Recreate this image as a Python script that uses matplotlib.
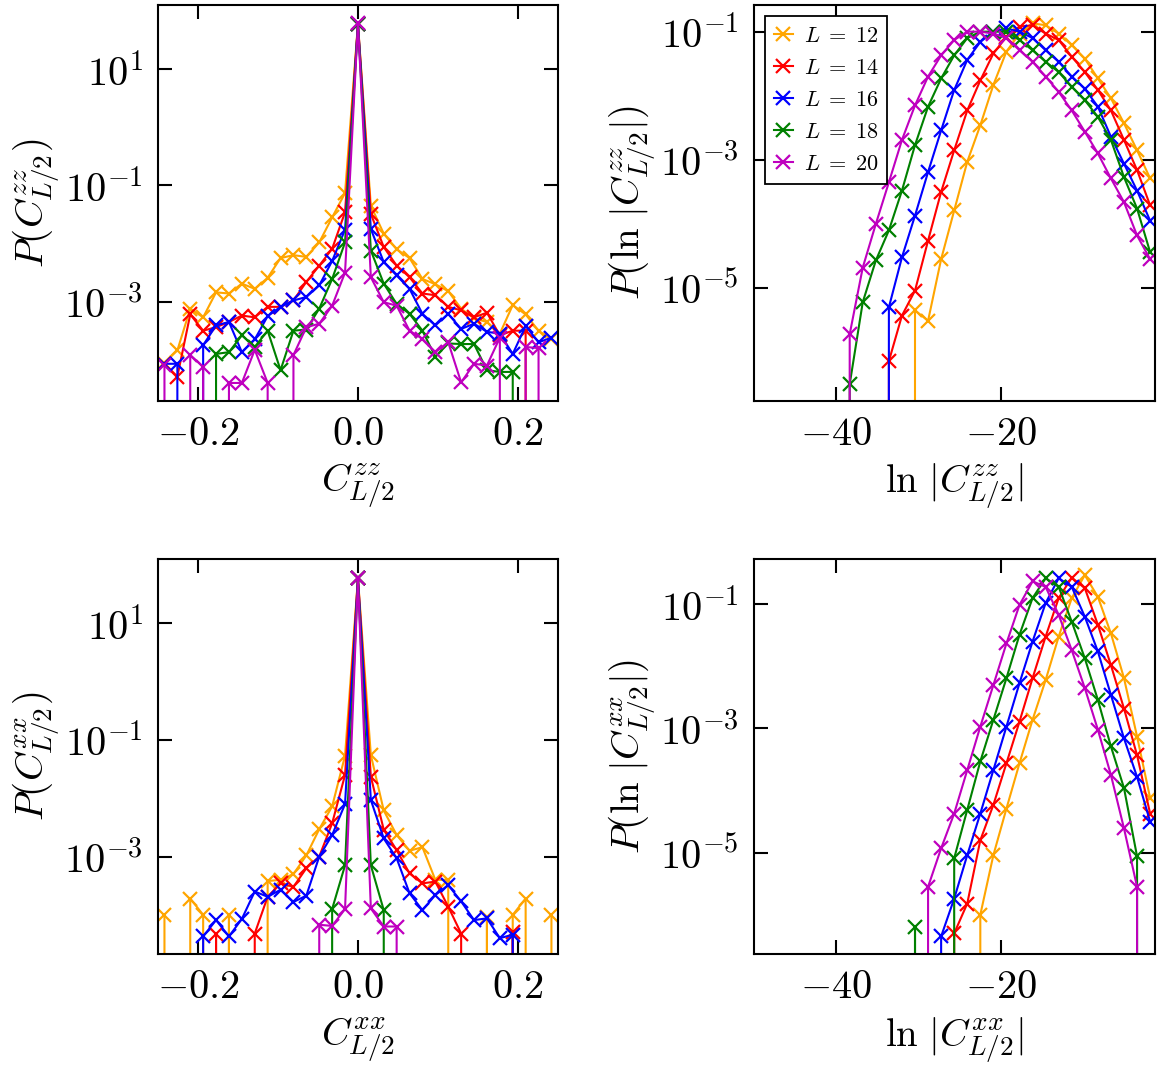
import numpy as np
import matplotlib
matplotlib.use('Agg')
import matplotlib.pyplot as plt
from matplotlib.ticker import FixedLocator, FuncFormatter, NullLocator

plt.rcParams['mathtext.fontset'] = 'cm'
plt.rcParams['font.family'] = 'serif'
plt.rcParams['font.serif'] = ['DejaVu Serif']

N = np.nan   # empty bin

sizes = [12, 14, 16, 18, 20]
colors = ['orange', 'red', 'blue', 'green', 'm']

# bin centres of the histograms
c_bins = np.linspace(-0.2419, 0.2419, 31)
ln_bins = np.linspace(-39.97, -1.93, 25)

# values are log10 of the probability density
# C^zz, bins k = -15 .. 15
zz_12 = [-4.05, -3.84, -3.12, -3.27, -2.84, -2.86, -2.69, -2.78, -2.59, -2.25, -2.20, -2.23, -1.98, -1.55, -1.13,
         1.78,
         -1.35, -1.83, -2.10, -2.25, -2.61, -2.70, -2.82, -3.12, -3.29, -3.35, -3.55, -3.06, -3.22, -3.50, -3.65]
zz_14 = [-4.07, -4.29, -3.22, -3.50, -3.44, -3.35, -3.24, -3.27, -3.09, -3.09, -2.98, -2.66, -2.38, -2.09, -1.46,
         1.78,
         -1.49, -2.06, -2.38, -2.58, -2.86, -2.89, -3.09, -3.15, -3.27, -3.19, -3.58, -3.50, -3.50, N, N]
zz_16 = [-4.07, -4.07, N, -3.75, -3.41, -3.35, -3.87, -3.65, -3.25, -3.09, -2.98, -2.92, -2.72, -2.30, -1.76,
         1.78,
         -1.75, -2.32, -2.55, -2.78, -3.21, -3.41, -3.21, -3.47, -3.38, -3.52, -3.55, -3.90, -3.42, -3.70, -3.62]
zz_18 = [N, N, N, N, -3.90, -3.87, -3.58, -3.78, -3.50, -4.18, -3.50, -3.48, -3.12, -2.61, -1.98,
         1.78,
         -2.12, -2.69, -3.04, -3.21, -3.50, -3.95, -3.72, -3.73, -3.73, -4.18, -4.21, -4.21, N, N, N]
zz_20 = [-4.09, N, -3.92, -4.12, N, -4.40, -4.40, -3.83, -4.40, N, -3.92, -3.44, -3.38, -3.07, -2.50,
         1.79,
         -2.58, -3.01, -3.07, -3.50, -3.64, -3.87, -3.70, -4.39, -4.07, -4.10, -3.62, N, -3.78, -3.80, N]

# C^xx, bins k = -15 .. 15
xx_12 = [-4.00, N, -3.72, -4.00, N, -4.00, N, N, -3.42, -3.40, -3.30, -2.98, -2.53, -2.14, -1.27,
         1.77,
         -1.26, -2.21, -2.63, -2.90, -2.84, -3.40, -3.40, N, N, -4.03, N, -4.00, -3.72, N, -4.00]
xx_14 = [N, N, N, N, -4.32, N, N, -4.32, -3.69, -3.46, -3.52, -3.20, -3.00, -2.43, -1.60,
         1.77,
         -1.63, -2.54, -2.89, -3.29, -3.46, -3.43, -3.86, -4.32, N, N, N, -4.29, N, N, N]
xx_16 = [N, N, N, -4.37, -4.09, -4.37, -4.07, -3.60, -3.69, -3.57, -3.78, -3.67, -3.00, -2.63, -2.10,
         1.77,
         -2.03, -2.69, -3.03, -3.63, -3.92, -3.66, -3.49, -3.77, -4.09, -4.06, -4.40, -4.34, N, N, N]
xx_18 = [N, N, N, N, N, N, N, N, N, N, N, N, N, -3.90, -3.15,
         1.77,
         -3.15, -3.92, N, N, N, N, N, N, N, N, N, N, N, N, N]
xx_20 = [N, N, N, N, N, N, N, N, N, N, N, N, -4.17, -4.19, -3.90,
         1.77,
         -3.89, -4.20, -4.20, N, N, N, N, N, N, N, N, N, N, N, N]

# ln|C^zz|, 25 bins
lzz_12 = [N, N, N, N, N, N,
          -5.35, -5.51, -4.55, -3.79, -3.03, -2.46, -1.83, -1.31, -1.03, -0.87, -0.90, -1.03, -1.21, -1.42,
          -1.73, -2.04, -2.43, -2.85, -3.29]
lzz_14 = [N, N, N, N,
          -6.14, -5.43, -5.04, -4.26, -3.50, -2.85, -2.23, -1.76, -1.34, -1.08, -0.92, -0.90, -1.03, -1.13,
          -1.39, -1.63, -1.91, -2.23, -2.69, -3.16, -3.71]
lzz_16 = [N, N, N, N,
          -5.30, -4.52, -3.87, -3.19, -2.54, -1.91, -1.44, -1.16, -1.00, -0.95, -1.00, -1.10, -1.29, -1.47,
          -1.70, -1.89, -2.17, -2.64, -3.06, -3.48, -3.95]
lzz_18 = [N,
          -6.50, -5.22, -4.57, -4.10, -3.48, -2.77, -2.17, -1.73, -1.37, -1.10, -1.00, -1.00, -1.00, -1.13,
          -1.29, -1.47, -1.63, -1.86, -2.07, -2.33, -2.69, -3.27, -3.76, -4.44]
lzz_20 = [N,
          -5.72, -4.68, -4.00, -3.35, -2.69, -2.15, -1.70, -1.37, -1.13, -1.00, -1.00, -1.03, -1.10, -1.29,
          -1.47, -1.70, -1.94, -2.23, -2.56, -2.90, -3.29, -3.66, -4.18, -4.55]

# ln|C^xx|, 25 bins
lxx_12 = [N, N, N, N, N, N, N, N, N, N, N,
          -6.00, -5.04, -4.29, -3.56, -2.86, -2.22, -1.52, -0.90, -0.53, -0.88, -1.47, -2.19, -3.13, -4.12]
lxx_14 = [N, N, N, N, N, N, N, N, N,
          -6.30, -5.82, -4.80, -4.23, -3.56, -2.89, -2.19, -1.52, -0.90, -0.57, -0.74, -1.33, -1.98, -2.68,
          -3.43, -4.37]
lxx_16 = [N, N, N, N, N, N, N, N,
          -6.35, -5.74, -5.04, -4.37, -3.67, -2.97, -2.27, -1.60, -0.98, -0.58, -0.72, -1.20, -1.76, -2.46,
          -3.16, -3.78, -4.50]
lxx_18 = [N, N, N, N, N, N, -6.19, N, N,
          -5.09, -4.31, -3.53, -2.86, -2.19, -1.49, -0.90, -0.58, -0.72, -1.28, -1.87, -2.54, -3.29, -3.96,
          -5.06, N]
lxx_20 = [N, N, N, N, N, N, N,
          -5.55, -4.93, -4.37, -3.67, -2.97, -2.30, -1.63, -1.01, -0.63, -0.72, -1.17, -1.74, -2.35, -3.02,
          -3.75, -4.61, -5.55, N]


def to_p(e):
    e = np.array(e, dtype=float)
    return np.where(np.isnan(e), 0.0, 10.0 ** e)


def draw(ax, x, series):
    for vals, c, L in zip(series, colors, sizes):
        ax.plot(x, to_p(vals), color=c, marker='x', ms=10, mew=1.6, lw=1.5,
                label=r'$L\;=\;%d$' % L)


def style(ax, xlim, xticks, xfmt, ylim, yticks, xlabel, ylabel):
    ax.set_yscale('log')
    ax.set_xlim(*xlim)
    ax.set_ylim(*ylim)
    ax.yaxis.set_major_locator(FixedLocator(yticks))
    ax.yaxis.set_minor_locator(NullLocator())
    ax.yaxis.set_major_formatter(FuncFormatter(lambda v, p: r'$10^{%d}$' % round(np.log10(v))))
    ax.xaxis.set_major_locator(FixedLocator(xticks))
    ax.xaxis.set_minor_locator(NullLocator())
    ax.xaxis.set_major_formatter(FuncFormatter(xfmt))
    ax.tick_params(which='both', direction='in', top=True, right=True,
                   length=10, width=1.5, labelsize=29, pad=11)
    for s in ax.spines.values():
        s.set_linewidth(1.5)
    ax.set_xlabel(xlabel, fontsize=28, labelpad=6)
    ax.set_ylabel(ylabel, fontsize=28, labelpad=1)


fig = plt.figure(figsize=(11.65, 10.77), dpi=100)
ax_tl = fig.add_axes([0.1356, 0.6277, 0.3433, 0.3677])
ax_tr = fig.add_axes([0.6472, 0.6277, 0.3442, 0.3677])
ax_bl = fig.add_axes([0.1356, 0.1142, 0.3433, 0.3668])
ax_br = fig.add_axes([0.6472, 0.1142, 0.3442, 0.3668])

c_fmt = lambda v, p: r'$%.1f$' % v
ln_fmt = lambda v, p: r'$%d$' % v

draw(ax_tl, c_bins, [zz_12, zz_14, zz_16, zz_18, zz_20])
style(ax_tl, (-0.25, 0.25), [-0.2, 0.0, 0.2], c_fmt, (1.95e-5, 128), [1e1, 1e-1, 1e-3],
      r'$C^{zz}_{L/2}$', r'$P(C^{zz}_{L/2})$')

draw(ax_tr, ln_bins, [lzz_12, lzz_14, lzz_16, lzz_18, lzz_20])
style(ax_tr, (-50, -1.34), [-40, -20], ln_fmt, (1.73e-7, 0.261), [1e-1, 1e-3, 1e-5],
      r'$\ln\,|C^{zz}_{L/2}|$', r'$P(\ln\,|C^{zz}_{L/2}|)$')
leg = ax_tr.legend(loc='upper left', fontsize=16, handlelength=0.85, handletextpad=0.5,
                   labelspacing=0.45, fancybox=False, edgecolor='black', framealpha=1,
                   borderaxespad=0.5)
leg.get_frame().set_linewidth(1.3)

draw(ax_bl, c_bins, [xx_12, xx_14, xx_16, xx_18, xx_20])
style(ax_bl, (-0.25, 0.25), [-0.2, 0.0, 0.2], c_fmt, (2.13e-5, 127), [1e1, 1e-1, 1e-3],
      r'$C^{xx}_{L/2}$', r'$P(C^{xx}_{L/2})$')

draw(ax_br, ln_bins, [lxx_12, lxx_14, lxx_16, lxx_18, lxx_20])
style(ax_br, (-50, -1.34), [-40, -20], ln_fmt, (2.33e-7, 0.537), [1e-1, 1e-3, 1e-5],
      r'$\ln\,|C^{xx}_{L/2}|$', r'$P(\ln\,|C^{xx}_{L/2}|)$')

fig.savefig('out.png', dpi=100)
